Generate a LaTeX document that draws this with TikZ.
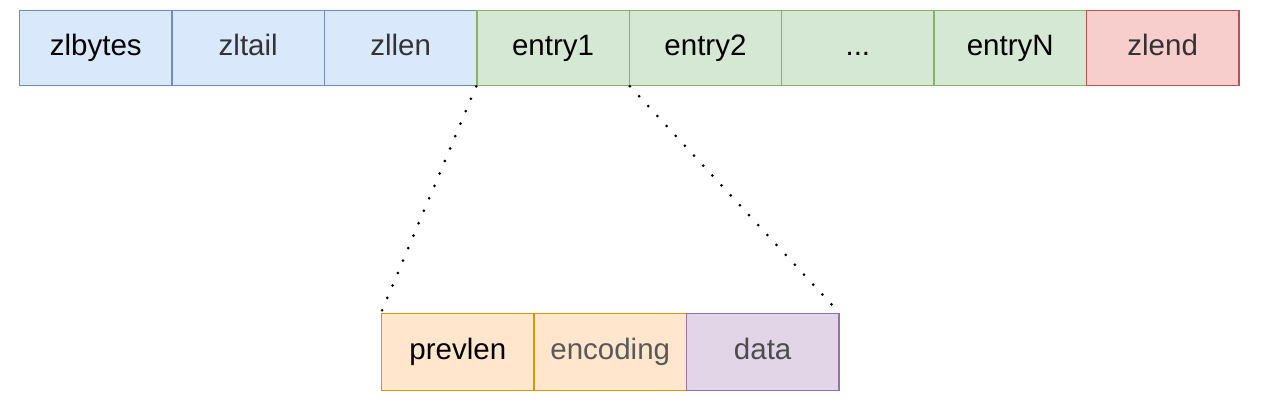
\documentclass[tikz,border=0pt]{standalone}
\usepackage{fontspec}
\setmainfont{Liberation Sans}
\definecolor{bfill}{HTML}{DAE8FC}\definecolor{bdraw}{HTML}{6C8EBF}
\definecolor{gfill}{HTML}{D5E8D4}\definecolor{gdraw}{HTML}{82B366}
\definecolor{rfill}{HTML}{F8CECC}\definecolor{rdraw}{HTML}{B85450}
\definecolor{ofill}{HTML}{FFE6CC}\definecolor{odraw}{HTML}{D79B00}
\definecolor{pfill}{HTML}{E1D5E7}\definecolor{pdraw}{HTML}{9673A6}
\definecolor{txt}{HTML}{333333}
\tikzset{
  cell/.style={draw, line width=1.3pt, minimum width=152.4pt, minimum height=75pt, inner sep=0pt, anchor=north west, font=\fontsize{29.5}{33}\selectfont, text=txt, text height=21pt, text depth=6pt},
  blue/.style={cell, fill=bfill, draw=bdraw},
  green/.style={cell, fill=gfill, draw=gdraw},
  red/.style={cell, fill=rfill, draw=rdraw},
  orange/.style={cell, fill=ofill, draw=odraw, minimum height=77pt},
  purple/.style={cell, fill=pfill, draw=pdraw, minimum height=77pt},
  link/.style={line width=3pt, dash pattern=on 0pt off 13.5pt, line cap=round}
}
\begin{document}
\begin{tikzpicture}[x=1pt,y=-1pt]
\useasboundingbox (0,0) rectangle (1282,403);
\node[blue,text=black] (zlbytes) at (19,10) {zlbytes};
\node[blue] (zltail) at (171.4,10) {zltail};
\node[blue] (zllen) at (323.8,10) {zllen};
\node[green,text=black] (e1) at (476.2,10) {entry1};
\node[green,text=black] (e2) at (628.6,10) {entry2};
\node[green,text=black] (dots) at (781,10) {...};
\node[green,text=black] (eN) at (933.4,10) {entryN};
\node[red] (zlend) at (1085.8,10) {zlend};
\node[orange,text=black] (prevlen) at (381,313) {prevlen};
\node[orange,text={black!65}] (encoding) at (533.4,313) {encoding};
\node[purple,text={black!70}] (data) at (685.8,313) {data};
\draw[link] (e1.south west) -- (prevlen.north west);
\draw[link] (e1.south east) -- (data.north east);
\end{tikzpicture}
\end{document}
